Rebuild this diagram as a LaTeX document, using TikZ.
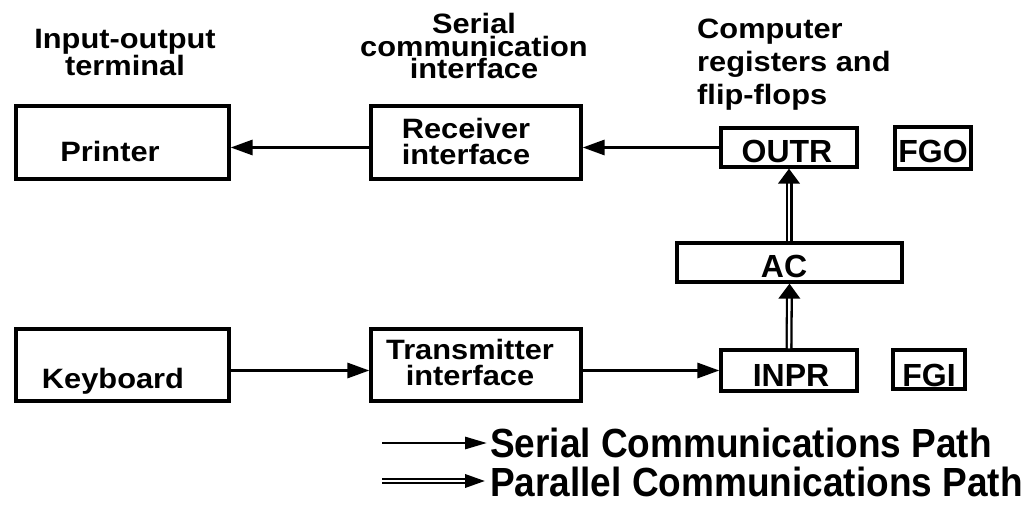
\documentclass[tikz,border=0pt]{standalone}
\usepackage{fontspec}
\setmainfont{Liberation Sans}
\usetikzlibrary{arrows.meta,decorations.markings}
\newcommand{\wide}[1]{\scalebox{1.1}[1]{#1}}
\newcommand{\tall}[1]{\scalebox{1}[1.1]{#1}}
\begin{document}
\begin{tikzpicture}[x=1pt,y=-1pt,
  box/.style={draw, line width=3.2pt, inner sep=0pt},
  hd/.style={font=\bfseries\fontsize{28}{21}\selectfont, inner sep=0pt, align=center},
  lbl/.style={font=\bfseries\fontsize{28}{26}\selectfont, inner sep=0pt, align=center},
  reg/.style={font=\bfseries\fontsize{32}{32}\selectfont, inner sep=0pt},
  leg/.style={font=\bfseries\fontsize{37}{37}\selectfont, inner sep=0pt},
  ser/.style={line width=3pt, -{Triangle[length=22pt,width=15pt]}},
  par/.style={double, line width=2.3pt, double distance=2.4pt, shorten >=12pt,
    postaction={decorate, decoration={markings,
      mark=at position 1 with {\arrow{Triangle[length=15pt,width=21pt]}}}}},
  legser/.style={line width=2.8pt, -{Triangle[length=22pt,width=12pt]}},
  legpar/.style={double, line width=2.1pt, double distance=2.4pt, shorten >=16pt,
    postaction={decorate, decoration={markings,
      mark=at position 1 with {\arrow{Triangle[length=22pt,width=12pt]}}}}}
]
\useasboundingbox (0,0) rectangle (1025,505);

% boxes
\node[box, minimum width=213pt, minimum height=73pt] (printer) at (122.5,142.5) {};
\node[box, minimum width=210pt, minimum height=73pt] (recv) at (476,142.5) {};
\node[box, minimum width=136pt, minimum height=39pt] (outr) at (789,147.5) {};
\node[box, minimum width=76pt, minimum height=42pt] (fgo) at (933,148) {};
\node[box, minimum width=225pt, minimum height=39pt] (ac) at (789.5,262.5) {};
\node[box, minimum width=213pt, minimum height=72pt] (keyb) at (122.5,365) {};
\node[box, minimum width=210pt, minimum height=72pt] (trans) at (476,365) {};
\node[box, minimum width=136pt, minimum height=41pt] (inpr) at (789,370.5) {};
\node[box, minimum width=72pt, minimum height=39pt] (fgi) at (929,369.5) {};

% headings (base anchor = baseline of last line)
\node[hd, anchor=base] (h1) at (125,76) {\wide{Input-output}\\\wide{terminal}};
\node[hd, anchor=base, font=\bfseries\fontsize{28}{22.5}\selectfont] (h2) at (474,79) {\wide{Serial}\\\wide{communication}\\\wide{interface}};
\node[hd, anchor=base west, align=left, font=\bfseries\fontsize{28}{33}\selectfont] (h3) at (697,105) {\wide{Computer}\\\wide{registers and}\\\wide{flip-flops}};

% box labels
\node[lbl, anchor=base] (tprinter) at (110,162) {\wide{Printer}};
\node[lbl, anchor=base] (trecv) at (466,165) {\wide{Receiver}\\\wide{interface}};
\node[lbl, anchor=base] (tkeyb) at (113,388) {\wide{Keyboard}};
\node[lbl, anchor=base] (ttrans) at (470,385) {\wide{Transmitter}\\\wide{interface}};
\node[reg, anchor=base] (toutr) at (787,163) {OUTR};
\node[reg, anchor=base] (tfgo) at (933,163) {FGO};
\node[reg, anchor=base] (tac) at (784,277) {AC};
\node[reg, anchor=base] (tinpr) at (791,386) {INPR};
\node[reg, anchor=base] (tfgi) at (929,386) {FGI};

% connectors
\draw[ser] (outr.west) -- (outr.west -| recv.east);
\draw[ser] (outr.west -| recv.west) -- (outr.west -| printer.east);
\draw[ser] (inpr.west -| keyb.east) -- (inpr.west -| trans.west);
\draw[ser] (inpr.west -| trans.east) -- (inpr.west);
\draw[par] (inpr.north) -- (ac.south);
\draw[par] (ac.north -| outr.south) -- (outr.south);

% legend
\coordinate (s0) at (382,443);
\coordinate (s1) at (487,443);
\coordinate (p0) at (382,481);
\coordinate (p1) at (487,481);
\draw[legser] (s0) -- (s1);
\draw[legpar] (p0) -- (p1);
\node[leg, anchor=base west] (lser) at (490,457) {\tall{Serial Communications Path}};
\node[leg, anchor=base west] (lpar) at (490,496) {\tall{Parallel Communications Path}};
\end{tikzpicture}
\end{document}
